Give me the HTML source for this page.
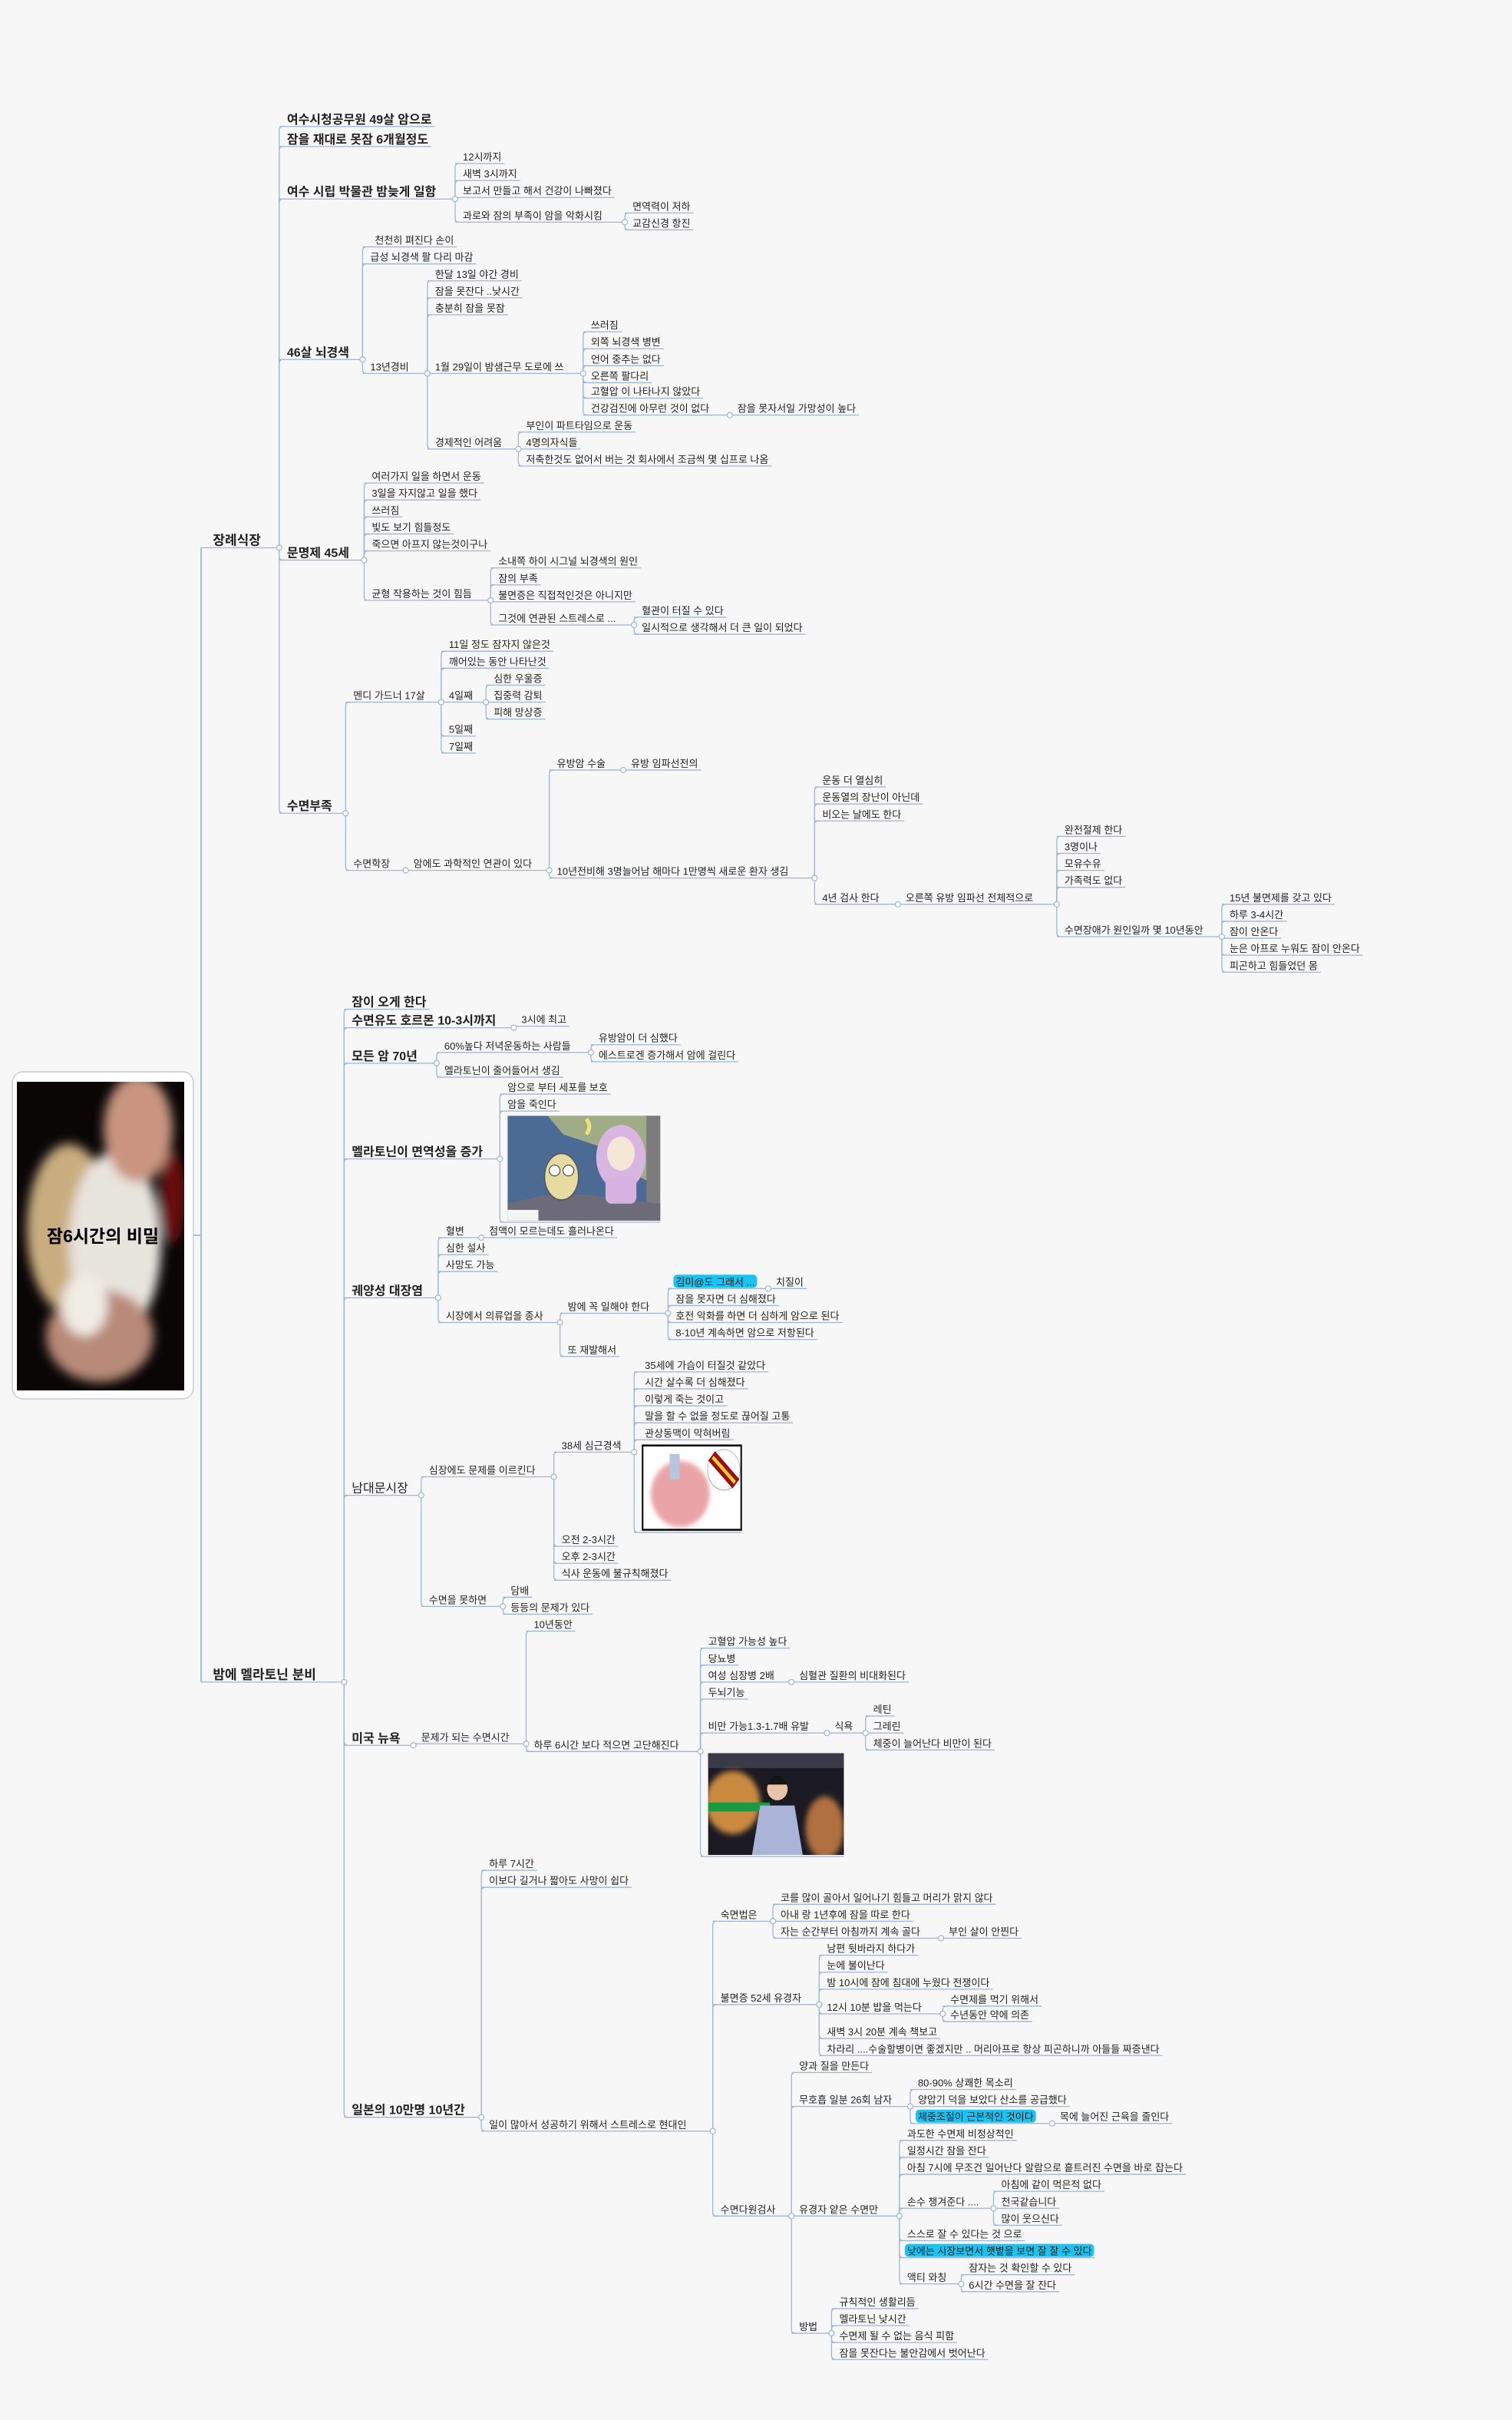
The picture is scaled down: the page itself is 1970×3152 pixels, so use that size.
<!DOCTYPE html>
<html lang="ko">
<head>
<meta charset="utf-8">
<style>
html,body{margin:0;padding:0;background:#f7f7f7;}
svg{display:block;}
text{font-family:"Liberation Sans","Noto Sans CJK KR","NanumGothic",sans-serif;fill:#222;}
</style>
</head>
<body>
<svg id="s" width="1970" height="3152" viewBox="0 0 1970 3152" xmlns="http://www.w3.org/2000/svg">
<defs>
<filter id="bl" x="-20%" y="-20%" width="140%" height="140%"><feGaussianBlur stdDeviation="7"/></filter>
<filter id="bl2" x="-20%" y="-20%" width="140%" height="140%"><feGaussianBlur stdDeviation="4"/></filter>
<clipPath id="c1"><rect x="22" y="1409" width="218" height="402"/></clipPath>
</defs>
<rect x="16" y="1396" width="236" height="426" rx="14" fill="#fff" stroke="#c3cbe0" stroke-width="1.5"/>
<g clip-path="url(#c1)">
<rect x="22" y="1409" width="218" height="402" fill="#0a0606"/>
<g filter="url(#bl)">
<ellipse cx="90" cy="1600" rx="55" ry="110" fill="#c9ad80"/>
<ellipse cx="150" cy="1620" rx="60" ry="120" fill="#e8e4de"/>
<ellipse cx="180" cy="1470" rx="45" ry="70" fill="#c99580"/>
<ellipse cx="130" cy="1740" rx="70" ry="60" fill="#b88a78"/>
<ellipse cx="225" cy="1560" rx="16" ry="60" fill="#6a1010"/>
<ellipse cx="110" cy="1700" rx="30" ry="40" fill="#f0ece6"/>
</g>
</g>
<line x1="252" y1="1609" x2="262" y2="1609" stroke="#a4bde6" stroke-width="2"/>
<text x="134" y="1618" text-anchor="middle" font-size="23" font-weight="bold" style="fill:#000">잠6시간의 비밀</text>
<g id="imgs"></g>
<g id="lines" stroke="#9fb5da" stroke-width="1.3" fill="none"></g>
<g id="txt"></g>
<g id="dots"></g>
</svg>
<script>
var F=2.01;
function n(t,x,y,s,k){return {t:t,x:x,y:y,s:s||'s',k:k||[]};}
function im(x1,y1,x2,y2,kind){return {img:kind,x:x1,y:y1,x2:x2,y2:y2,k:[]};}
function h(o){o.h=1;return o;}
var S={L0:[17,'bold',10],L1:[16,'bold',10],M:[16,'normal',10],s:[13,'normal',8]};
var T=[
n('장례식장',138,350,'L0',[
 n('여수시청공무원 49살 암으로',186,77,'L1'),
 n('잠을 재대로 못잠 6개월정도',186,90,'L1'),
 n('여수 시립 박물관 밤늦게 일함',186,124,'L1',[
   n('12시까지',300,102),n('새벽 3시까지',300,113),n('보고서 만들고 해서 건강이 나빠졌다',300,124),
   n('과로와 잠의 부족이 암을 악화시킴',300,140,'s',[n('면역력이 저하',410,134),n('교감신경 항진',410,145)])]),
 n('46살 뇌경색',186,228,'L1',[
   n('천천히 펴진다 손이',243,156),n('급성 뇌경색  팔 다리 마감',240,167),
   n('13년경비',240,238,'s',[
     n('한달 13일 야간 경비',282,178),n('잠을 못잔다 ..낮시간',282,189),n('충분히 잠을 못잠',282,200),
     n('1월 29일이 밤샘근무 도로에 쓰',282,238,'s',[
       n('쓰러짐',383,211),n('외쪽 뇌경색 병변',383,222),n('언어 중추는 없다',383,233),n('오른쪽 팔다리',383,244),
       n('고혈압 이 나타나지 않았다',383,254),n('건강검진에 아무런 것이 없다',383,265,'s',[n('잠을 못자서일 가망성이 높다',478,265)])]),
     n('경제적인 어려움',282,287,'s',[
       n('부인이 파트타임으로 운동',341,276),n('4명의자식들',341,287),n('저축한것도 없어서 버는 것 회사에서 조금씩 몇 십프로 나옴',341,298)])])]),
 n('문명제 45세',186,358,'L1',[
   n('여러가지 일을 하면서 운동',241,309),n('3일을 자지않고 일을 했다',241,320),n('쓰러짐',241,331),
   n('빛도 보기 힘들정도',241,342),n('죽으면 아프지 않는것이구나',241,353),
   n('균형 작용하는 것이 힘듬',241,385,'s',[
     n('소내쪽 하이 시그널 뇌경색의 원인',323,364),n('잠의 부족',323,375),n('불면증은 직접적인것은 아니지만',323,386),
     n('그것에 연관된 스트레스로 ...',323,401,'s',[n('혈관이 터질 수 있다',416,396),n('일시적으로 생각해서 더 큰 일이 되었다',416,407)])])]),
 n('수면부족',186,522,'L1',[
   n('멘디 가드너 17살',229,451,'s',[
     n('11일 정도 잠자지 않은것',291,418),n('깨어있는 동안 나타난것',291,429),
     n('4일째',291,451,'s',[n('심한 우울증',320,440),n('집중력 감퇴',320,451),n('피해 망상증',320,462)]),
     n('5일째',291,473),n('7일째',291,484)]),
   n('수면학장',229,560,'s',[
     n('암에도 과학적인 연관이 있다',268,560,'s',[
       n('유방암 수술',361,495,'s',[n('유방 임파선전의',409,495)]),
       n('10년전비해 3명늘어남 해마다 1만명씩 새로운 환자 생김',361,565,'s',[
         n('운동 더 열심히',533,506),n('운동열의 장난이 아닌데',533,517),n('비오는 날에도 한다',533,528),
         n('4년  검사 한다',533,582,'s',[
           n('오른쪽 유방 임파선 전체적으로',587,582,'s',[
             n('완전절제 한다',690,538),n('3명이나',690,549),n('모유수유',690,560),n('가족력도 없다',690,571),
             n('수면장애가 원인일까 몇 10년동안',690,603,'s',[
               n('15년 불면제를 갖고 있다',797,582),n('하루 3-4시간',797,593),n('잠이 안온다',797,604),
               n('눈은 아프로 누워도 잠이 안온다',797,615),n('피곤하고 힘들었던 몸',797,626)])])])])])])])
]),
n('밤에 멜라토닌 분비',138,1085,'L0',[
 n('잠이 오게 한다',228,649,'L1'),
 n('수면유도 호르몬 10-3시까지',228,661,'L1',[n('3시에 최고',338,661)]),
 n('모든 암 70년',228,684,'L1',[
   n('60%높다 저녁운동하는 사람들',288,678,'s',[n('유방암이 더 심했다',388,673),n('에스트로겐 증가해서 암에 걸린다',388,684)]),
   n('멜라토닌이 줄어들어서 생김',288,694)]),
 n('멜라토닌이 면역성을 증가',228,746,'L1',[
   n('암으로 부터 세포를 보호',329,705),n('암을 죽인다',329,716),im(329,723,428,791,'owl')]),
 n('궤양성 대장염',228,836,'L1',[
   n('혈변',289,798,'s',[n('점액이 모르는데도 흘러나온다',317,798)]),
   n('심한 설사',289,809),n('사망도 가능',289,820),
   n('시장에서 의류업을 종사',289,853,'s',[
     n('밤에 꼭 일해야 한다',368,847,'s',[
       h(n('김미@도 그래서 ...',438,831,'s',[n('치질이',503,831)])),
       n('잠을 못자면 더 심해졌다',438,842),n('호전 악화를 하면 더 심하게 암으로 된다',438,853),n('8-10년 계속하면 암으로 저항된다',438,864)]),
     n('또 재발해서',368,875)])]),
 n('남대문시장',228,964,'M',[
   n('심장에도 문제를 이르킨다',278,953,'s',[
     n('38세 심근경색',364,937,'s',[
       n('35세에 가슴이 터질것 같았다',418,885),n('시간 살수록 더 심해졌다',418,896),n('이렇게 죽는 것이고',418,907),
       n('말을 할 수 없을 정도로 끊어질 고통',418,918),n('관상동맥이 막혀버림',418,929),im(416,936,481,992,'heart')]),
     n('오전 2-3시간',364,998),n('오후 2-3시간',364,1009),n('식사 운동에 불규칙해졌다',364,1020)]),
   n('수면을 못하면',278,1037,'s',[n('담배',331,1031),n('등등의 문제가 있다',331,1042)])]),
 n('미국 뉴욕',228,1126,'L1',[
   n('문제가 되는 수면시간',273,1126,'s',[
     n('10년동안',346,1053),
     n('하루 6시간 보다 적으면 고단해진다',346,1131,'s',[
       n('고혈압 가능성 높다',459,1064),n('당뇨병',459,1075),
       n('여성 심장병 2배',459,1086,'s',[n('심혈관 질환의 비대화된다',518,1086)]),
       n('두뇌기능',459,1097),
       n('비만 가능1.3-1.7배 유발',459,1119,'s',[n('식욕',541,1119,'s',[n('레틴',566,1108),n('그레린',566,1119),n('체중이 늘어난다 비만이 된다',566,1130)])]),
       im(459,1136,547,1202,'woman')])])]),
 n('일본의 10만명 10년간',228,1367,'L1',[
   n('하루 7시간',317,1208),n('이보다 길거나 짧아도 사망이 쉽다',317,1219),
   n('일이 많아서 성공하기 위해서 스트레스로 현대인',317,1377,'s',[
     n('숙면법은',467,1241,'s',[
       n('코를 많이 골아서 일어나기 힘들고 머리가 맑지 않다',506,1230),n('아내 랑 1년후에 잠을 따로 한다',506,1241),
       n('자는 순간부터 아침까지 계속 골다',506,1252,'s',[n('부인 살이 안찐다',615,1252)])]),
     n('불면증 52세 유경자',467,1295,'s',[
       n('남편 뒷바라지 하다가',536,1263),n('눈에 불이난다',536,1274),n('밤 10시에 잠에 침대에 누웠다 전쟁이다',536,1285),
       n('12시 10분 밥을 먹는다',536,1301,'s',[n('수면제를 먹기 위해서',616,1296),n('수년동안 약에 의존',616,1306)]),
       n('새벽 3시 20분 계속 책보고',536,1317),
       n('차라리 ....수술할병이면 좋겠지만 .. 머리아프로 항상 피곤하니까 아들들 짜증낸다',536,1328)]),
     n('수면다원검사',467,1432,'s',[
       n('양과 질을 만든다',518,1339),
       n('무호흡 일분 26회 남자',518,1361,'s',[
         n('80-90% 상쾌한 목소리',595,1350),n('양압기 덕을 보았다 산소를 공급했다',595,1361),
         h(n('체중조절이 근본적인 것이다',595,1372,'s',[n('목에 늘어진 근육을 줄인다',687,1372)]))]),
       n('유경자 얕은 수면만',518,1432,'s',[
         n('과도한 수면제 비정상적인',588,1383),n('일정시간 잠을 잔다',588,1394),
         n('아침 7시에 무조건 일어난다 알람으로 흩트러진 수면을 바로 잡는다',588,1405),
         n('손수 챙겨준다 ....',588,1427,'s',[n('아침에 같이 먹은적 없다',649,1416),n('천국같습니다',649,1427),n('많이 웃으신다',649,1438)]),
         n('스스로 잘 수 있다는 것 으로',588,1448),
         h(n('낮에는 시장보면서 햇볕을 보면 잘 잘 수 있다',588,1459)),
         n('액티 와칭',588,1476,'s',[n('잠자는 것 확인할 수 있다',628,1470),n('6시간 수면을 잘 잔다',628,1481)])]),
       n('방법',518,1508,'s',[
         n('규칙적인 생활리듬',544,1492),n('멜라토닌 낮시간',544,1503),n('수면제 될 수 없는 음식 피함',544,1514),n('잠을 못잔다는 불안감에서 벗어난다',544,1525)])])])])
])];
var NS='http://www.w3.org/2000/svg';
var gT=document.getElementById('txt'),gL=document.getElementById('lines'),gD=document.getElementById('dots'),gI=document.getElementById('imgs');
function el(tag,a,p){var e=document.createElementNS(NS,tag);for(var k in a)e.setAttribute(k,a[k]);p.appendChild(e);return e;}
function drawImg(kind,x,y,w,hh){
  var g=el('g',{transform:'translate('+x+','+y+') scale('+(w/198)+','+(hh/136)+')'},gI);
  var cid='cl'+kind;
  var cp=el('clipPath',{id:cid},g);el('rect',{x:0,y:0,width:198,height:136},cp);
  var c=el('g',{'clip-path':'url(#'+cid+')'},g);
  if(kind=='owl'){
    el('rect',{x:0,y:0,width:198,height:136,fill:'#4b6b95'},c);
    el('polygon',{points:'52,0 198,0 198,94 162,74 132,44 102,34 72,24',fill:'#a0ac86'},c);
    el('rect',{x:180,y:0,width:18,height:136,fill:'#7c7c7c'},c);
    el('polygon',{points:'0,136 0,114 42,104 102,102 162,110 198,114 198,136',fill:'#6d6a7a'},c);
    el('rect',{x:0,y:122,width:40,height:14,fill:'#f5f5f5'},c);
    el('ellipse',{cx:70,cy:79,rx:22,ry:30,fill:'#e6dca2',stroke:'#555','stroke-width':1.5},c);
    el('circle',{cx:61,cy:71,r:7,fill:'#fff',stroke:'#333'},c);
    el('circle',{cx:79,cy:71,r:7,fill:'#fff',stroke:'#333'},c);
    el('ellipse',{cx:147,cy:54,rx:32,ry:42,fill:'#d9b6e2'},c);
    el('ellipse',{cx:147,cy:49,rx:18,ry:22,fill:'#f6e6d6'},c);
    el('rect',{x:127,y:79,width:40,height:35,rx:8,fill:'#d7b2e0'},c);
    el('path',{d:'M102,24 q8,-10 0,-20',stroke:'#f2e07a','stroke-width':5,fill:'none'},c);
  } else if(kind=='heart'){
    el('rect',{x:0,y:0,width:198,height:136,fill:'#fff'},c);
    el('ellipse',{cx:76,cy:78,rx:58,ry:52,fill:'#e9a4a8',filter:'url(#bl2)'},c);
    el('rect',{x:55,y:15,width:20,height:40,fill:'#b8c6dc'},c);
    el('circle',{cx:162,cy:40,r:32,fill:'#fff',stroke:'#999'},c);
    el('path',{d:'M138,18 L186,62',stroke:'#9a1010','stroke-width':20},c);
    el('path',{d:'M140,20 L184,60',stroke:'#f0d030','stroke-width':6},c);
    el('rect',{x:1.5,y:1.5,width:195,height:133,fill:'none',stroke:'#111','stroke-width':3.5},c);
  } else {
    el('rect',{x:0,y:0,width:198,height:136,fill:'#1b1a22'},c);
    el('rect',{x:0,y:0,width:198,height:20,fill:'#3a3a48'},c);
    el('ellipse',{cx:36,cy:66,rx:40,ry:42,fill:'#c98a40',filter:'url(#bl2)'},c);
    el('ellipse',{cx:170,cy:100,rx:28,ry:42,fill:'#b07040',filter:'url(#bl2)'},c);
    el('rect',{x:0,y:66,width:90,height:12,fill:'#1a9a40'},c);
    el('polygon',{points:'64,136 76,70 126,70 138,136',fill:'#aab4d8'},c);
    el('circle',{cx:101,cy:48,r:15,fill:'#e8c4a8'},c);
    el('path',{d:'M86,42 q15,-24 30,0',fill:'#151515'},c);
  }
}
function place(d){
  if(d.img){d.X=d.x*F;d.UL=d.y2*F+2;d.W=(d.x2-d.x)*F-4;drawImg(d.img,d.x*F,d.y*F,(d.x2-d.x)*F,(d.y2-d.y)*F);}
  else{
    var st=S[d.s];d.X=d.x*F;d.UL=d.y*F+st[2];
    var t=el('text',{x:d.X,y:d.UL-4,'font-size':st[0],'font-weight':st[1]},gT);
    t.textContent=d.t;
    d.W=t.getComputedTextLength();
    if(d.h){var r=el('rect',{x:d.X-3,y:d.UL-st[0]-5,width:d.W+6,height:st[0]+4,rx:5,fill:'#1cc2f0'},gT);gT.insertBefore(r,t);}
  }
  d.k.forEach(place);
}
function line(x1,y1,x2,y2){el('line',{x1:x1,y1:y1,x2:x2,y2:y2},gL);}
function lines(d,sx){
  var end=d.X+d.W+4,cx=null;
  if(d.k.length){cx=Math.min.apply(null,d.k.map(function(c){return c.X-10;}));if(cx<end)cx=end;}
  line(sx,d.UL,cx!==null?cx:end,d.UL);
  if(d.k.length){
    d.k.forEach(function(c){
      var dy=c.UL-d.UL;
      if(Math.abs(dy)<1){return;}
      var sg=dy>0?1:-1;
      el('path',{d:'M'+cx+','+d.UL+' L'+cx+','+(c.UL-sg*5)+' Q'+cx+','+c.UL+' '+(cx+5)+','+c.UL},gL);
    });
    el('circle',{cx:cx,cy:d.UL,r:3.5,fill:'#fff',stroke:'#9fb5da','stroke-width':1.2},gD);
    d.k.forEach(function(c){lines(c,cx);});
  }
}
T.forEach(place);
T.forEach(function(d){lines(d,262);});
el('line',{x1:262,y1:T[0].UL,x2:262,y2:T[1].UL,stroke:'#a4bde6','stroke-width':2},gL);
</script>
</body>
</html>
